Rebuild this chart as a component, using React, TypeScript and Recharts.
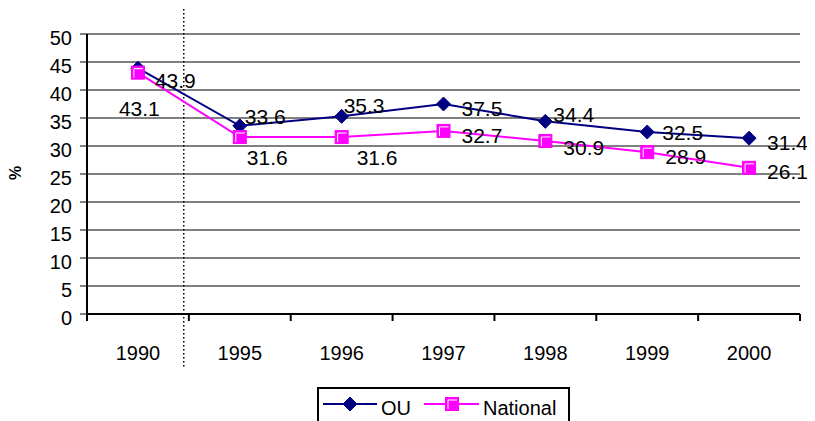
import React from "react";
import { LineChart, Line, XAxis, YAxis, CartesianGrid, ReferenceLine, LabelList } from "recharts";

const years = ["1990", "1995", "1996", "1997", "1998", "1999", "2000"];
const ouValues = [43.9, 33.6, 35.3, 37.5, 34.4, 32.5, 31.4];
const nationalValues = [43.1, 31.6, 31.6, 32.7, 30.9, 28.9, 26.1];
const yTicks = [0, 5, 10, 15, 20, 25, 30, 35, 40, 45, 50];

const data = years.map((y, i) => ({ year: y, ou: ouValues[i], national: nationalValues[i] }));

// label offsets (style)
const ouDx = [17, 5, 2, 18, 8, 15, 18];
const ouDy = [12, -9, -11, 4, -7, 0, 4];
const natDx = [-19, 7, 15, 18, 18, 18, 18];
const natDy = [36, 20, 20, 5, 7, 4, 4];

const W = 799;
const H = 413;
const M = { top: 26, right: 7, left: 4, bottom: 67 };
const YW = 75;
const PLOT_W = W - M.left - M.right - YW;
const BAND = PLOT_W / years.length;
const FONT = "'Liberation Sans', Arial, sans-serif";
const NAVY = "#000080";
const MAG = "#FF00FF";

const Diamond = (props: any) => {
  const { cx, cy } = props;
  if (cx == null || cy == null) return null;
  const s = 7;
  return <path d={`M${cx},${cy - s} L${cx + s},${cy} L${cx},${cy + s} L${cx - s},${cy} Z`} fill={NAVY} stroke={NAVY} />;
};

const Square = (props: any) => {
  const { cx, cy } = props;
  if (cx == null || cy == null) return null;
  const s = 6.5;
  return (
    <g>
      <rect x={cx - s} y={cy - s} width={2 * s} height={2 * s} fill={MAG} stroke={MAG} strokeWidth={1} />
      <path d={`M${cx - 4},${cy + 5} V${cy - 4} H${cx + 5}`} stroke="#fff" strokeWidth={1} fill="none" />
    </g>
  );
};

const makeLabel = (dxs: number[], dys: number[]) => (props: any) => {
  const { x, y, value, index } = props;
  return (
    <text x={x + dxs[index]} y={y + dys[index]} textAnchor="start" dominantBaseline="central" fontSize={21} fontFamily={FONT} fill="#000">
      {value}
    </text>
  );
};

const XTick = (props: any) => {
  const { x, y, payload, index } = props;
  return (
    <g>
      <line x1={x - BAND / 2} x2={x - BAND / 2} y1={y - 7} y2={y} stroke="#000" strokeWidth={2} />
      {index === years.length - 1 && <line x1={x + BAND / 2} x2={x + BAND / 2} y1={y - 7} y2={y} stroke="#000" strokeWidth={2} />}
      <text x={x} y={y + 32} textAnchor="middle" dominantBaseline="central" fontSize={20} fontFamily={FONT} fill="#000">
        {payload.value}
      </text>
    </g>
  );
};

const YTick = (props: any) => {
  const { x, y, payload } = props;
  return (
    <text x={x} y={y + 4} textAnchor="end" dominantBaseline="central" fontSize={20} fontFamily={FONT} fill="#000">
      {payload.value}
    </text>
  );
};

const DottedShape = (props: any) => {
  const { x1, y1, y2 } = props;
  if (x1 == null) return null;
  const x = x1 + BAND * 0.45;
  const top = Math.min(y1, y2);
  const bottom = Math.max(y1, y2);
  return <line x1={x} x2={x} y1={top - 25} y2={bottom + 55} stroke="#000" strokeWidth={1.5} strokeDasharray="1.5 2.5" />;
};

const YLabel = (props: any) => {
  const vb = props.viewBox || {};
  const cx = vb.x + 3;
  const cy = vb.y + vb.height / 2 - 1;
  return (
    <text x={cx} y={cy} transform={`rotate(-90 ${cx} ${cy})`} textAnchor="middle" dominantBaseline="central" fontSize={16} fontWeight="bold" fontFamily={FONT} fill="#000">
      %
    </text>
  );
};

const LegendBox = () => (
  <div style={{ position: "absolute", left: 309, top: 379, width: 253, height: 60, border: "2px solid #000", background: "#fff", boxSizing: "border-box" }}>
    <svg width={253} height={60} style={{ position: "absolute", left: -2, top: -2 }}>
      <line x1={6} x2={60} y1={17} y2={17} stroke={NAVY} strokeWidth={2} />
      <Diamond cx={33} cy={17} />
      <text x={64} y={28} fontSize={20} fontFamily={FONT} fill="#000">OU</text>
      <line x1={107} x2={162} y1={17} y2={17} stroke={MAG} strokeWidth={2} />
      <Square cx={135} cy={17} />
      <text x={166} y={28} fontSize={20} fontFamily={FONT} fill="#000">National</text>
    </svg>
  </div>
);

export default function App() {
  return (
    <div style={{ position: "relative", width: W, height: H, overflow: "hidden", background: "#fff" }}>
      <LineChart width={W} height={H} data={data} margin={M}>
        <CartesianGrid horizontal={true} vertical={false} stroke="#000" strokeWidth={1} />
        <XAxis
          dataKey="year"
          scale="band"
          interval={0}
          height={40}
          tickSize={7}
          tickMargin={0}
          tickLine={false}
          axisLine={{ stroke: "#000", strokeWidth: 2 }}
          tick={<XTick />}
        />
        <YAxis
          domain={[0, 50]}
          ticks={yTicks}
          interval={0}
          width={YW}
          tickSize={7}
          tickMargin={8}
          axisLine={{ stroke: "#000", strokeWidth: 2 }}
          tickLine={{ stroke: "#000", strokeWidth: 1 }}
          tick={<YTick />}
          label={<YLabel />}
        />
        <YAxis yAxisId="r" orientation="right" domain={[0, 50]} width={0} tick={false} tickLine={false} axisLine={{ stroke: "#808080", strokeWidth: 2 }} />
        <ReferenceLine y={50} stroke="#808080" strokeWidth={2} />
        <ReferenceLine x="1990" shape={<DottedShape />} />
        <Line type="linear" dataKey="ou" stroke={NAVY} strokeWidth={2} dot={<Diamond />} isAnimationActive={false}>
          <LabelList dataKey="ou" content={makeLabel(ouDx, ouDy)} />
        </Line>
        <Line type="linear" dataKey="national" stroke={MAG} strokeWidth={2} dot={<Square />} isAnimationActive={false}>
          <LabelList dataKey="national" content={makeLabel(natDx, natDy)} />
        </Line>
      </LineChart>
      <LegendBox />
    </div>
  );
}
